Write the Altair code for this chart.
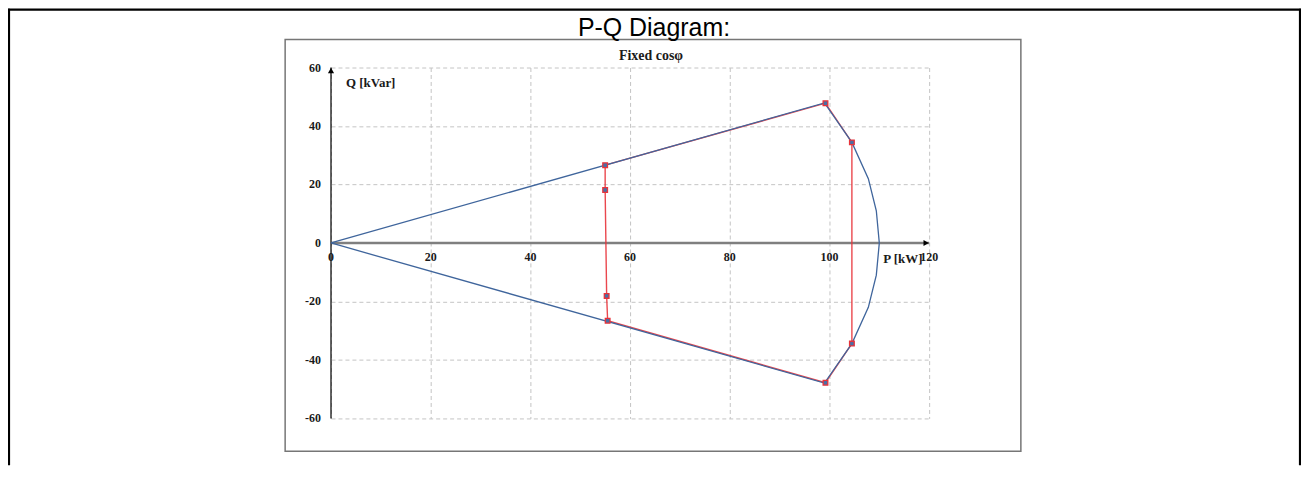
import altair as alt
import pandas as pd

# ---- data ----
X_TICKS = [0, 20, 40, 60, 80, 100, 120]
Y_TICKS = [-60, -40, -20, 0, 20, 40, 60]

# capability curve (blue): cos-phi lines + apparent power arc
BLUE_P = [0.0, 99.0, 104.5, 107.8, 109.4, 110.0, 109.4, 107.8, 104.5, 99.0, 0.0]
BLUE_Q = [0.0, 47.9, 34.4, 22.0, 11.0, 0.0, -11.0, -22.0, -34.4, -47.9, 0.0]

# operating region (red) with square markers
RED_P = [55.0, 55.0, 55.3, 55.5, 99.2, 104.5, 104.5, 99.2, 55.0]
RED_Q = [26.6, 18.1, -18.1, -26.6, -47.8, -34.4, 34.4, 47.8, 26.6]

X_AXIS_RANGE = [0, 120]
Y_AXIS_RANGE = [-60, 60]

SERIF = "Liberation Serif"
SANS = "Liberation Sans"

blue_df = pd.DataFrame({"P": BLUE_P, "Q": BLUE_Q, "i": range(len(BLUE_P))})
red_df = pd.DataFrame({"P": RED_P, "Q": RED_Q, "i": range(len(RED_P))})
mark_df = red_df.iloc[:-1]
xt_df = pd.DataFrame({"P": X_TICKS, "Q": [0] * len(X_TICKS), "lab": [str(v) for v in X_TICKS]})
yt_df = pd.DataFrame({"P": [0] * len(Y_TICKS), "Q": Y_TICKS, "lab": [str(v) for v in Y_TICKS]})
xaxis_df = pd.DataFrame({"P": [X_AXIS_RANGE[0]], "P2": [X_AXIS_RANGE[1]], "Q": [0]})
yaxis_df = pd.DataFrame({"P": [0], "Q": [Y_AXIS_RANGE[0]], "Q2": [Y_AXIS_RANGE[1]]})
xarrow_df = pd.DataFrame({"P": [X_AXIS_RANGE[1]], "Q": [0]})
yarrow_df = pd.DataFrame({"P": [0], "Q": [Y_AXIS_RANGE[1]]})
one = pd.DataFrame({"a": [0]})

xsc = alt.Scale(domain=X_AXIS_RANGE, nice=False, zero=False)
ysc = alt.Scale(domain=Y_AXIS_RANGE, nice=False, zero=False)
xax = alt.Axis(values=X_TICKS, grid=True, labels=False, ticks=False, domain=False,
               title=None, gridDash=[4, 3], gridColor="#c4c4c4", gridWidth=1)
yax = alt.Axis(values=Y_TICKS, grid=True, labels=False, ticks=False, domain=False,
               title=None, gridDash=[4, 3], gridColor="#c4c4c4", gridWidth=1)


def X(f="P"):
    return alt.X(f"{f}:Q", scale=xsc, axis=xax)


def Y(f="Q"):
    return alt.Y(f"{f}:Q", scale=ysc, axis=yax)


# decorations (frame of the embedded figure and document table lines)
frame = alt.Chart(one).mark_rect(fillOpacity=0, stroke="#767676", strokeWidth=1.5).encode(
    x=alt.value(-46), x2=alt.value(692), y=alt.value(-28), y2=alt.value(385))
tbl_top = alt.Chart(one).mark_rule(color="black", strokeWidth=2.2).encode(
    x=alt.value(-324), x2=alt.value(973), y=alt.value(-58))
tbl_left = alt.Chart(one).mark_rule(color="black", strokeWidth=2.2).encode(
    x=alt.value(-323), y=alt.value(-59), y2=alt.value(399))
tbl_right = alt.Chart(one).mark_rule(color="black", strokeWidth=2.2).encode(
    x=alt.value(972), y=alt.value(-59), y2=alt.value(399))

doc_title = alt.Chart(one).mark_text(font=SANS, fontSize=25, color="black",
                                     align="center", baseline="alphabetic").encode(
    x=alt.value(324), y=alt.value(-32), text=alt.value("P-Q Diagram:"))
fig_title = alt.Chart(one).mark_text(font=SERIF, fontSize=14, fontWeight="bold", color="#1a1a1a",
                                     align="center", baseline="middle").encode(
    x=alt.value(321), y=alt.value(-12), text=alt.value("Fixed cosφ"))
q_title = alt.Chart(one).mark_text(font=SERIF, fontSize=13, fontWeight="bold", color="#1a1a1a",
                                   align="left", baseline="middle").encode(
    x=alt.value(15), y=alt.value(16), text=alt.value("Q [kVar]"))
p_title = alt.Chart(one).mark_text(font=SERIF, fontSize=13, fontWeight="bold", color="#1a1a1a",
                                   align="left", baseline="middle").encode(
    x=alt.value(554), y=alt.value(192), text=alt.value("P [kW]"))

# axes through the origin
x_axis_line = alt.Chart(xaxis_df).mark_rule(color="#7f7f7f", strokeWidth=2.6).encode(
    x=X(), x2="P2:Q", y=Y())
y_axis_line = alt.Chart(yaxis_df).mark_rule(color="#111111", strokeWidth=1.3).encode(
    x=X(), y=Y(), y2="Q2:Q")
x_arrow = alt.Chart(xarrow_df).mark_point(shape="triangle-right", filled=True, color="black",
                                          size=38, opacity=1, xOffset=-3).encode(x=X(), y=Y())
y_arrow = alt.Chart(yarrow_df).mark_point(shape="triangle-up", filled=True, color="black",
                                          size=38, opacity=1, yOffset=3).encode(x=X(), y=Y())

x_labels = alt.Chart(xt_df).mark_text(font=SERIF, fontSize=12, fontWeight="bold", color="#1a1a1a",
                                      align="center", baseline="middle", dy=14).encode(
    x=X(), y=Y(), text="lab:N")
y_labels = alt.Chart(yt_df).mark_text(font=SERIF, fontSize=12, fontWeight="bold", color="#1a1a1a",
                                      align="right", baseline="middle", dx=-10).encode(
    x=X(), y=Y(), text="lab:N")

red_line = alt.Chart(red_df).mark_line(color="#e8333a", strokeWidth=1.4, opacity=0.9).encode(
    x=X(), y=Y(), order="i:Q")
blue_line = alt.Chart(blue_df).mark_line(color="#3f659c", strokeWidth=1.3).encode(
    x=X(), y=Y(), order="i:Q")
red_marks = alt.Chart(mark_df).mark_point(shape="square", filled=True, fill="#4a6fa5",
                                          stroke="#e8333a", strokeWidth=1.3, size=22,
                                          opacity=1).encode(x=X(), y=Y())

chart = alt.layer(
    frame, tbl_top, tbl_left, tbl_right, doc_title, fig_title,
    x_axis_line, y_axis_line, x_arrow, y_arrow,
    red_line, blue_line, red_marks,
    x_labels, y_labels, q_title, p_title,
).properties(
    width=600, height=352,
    autosize=alt.AutoSizeParams(type="none"),
    padding={"left": 324, "top": 59, "right": 373, "bottom": 47},
    background="white",
).configure_view(stroke=None)

chart.save("out.html", embed_options={"renderer": "svg", "actions": False})
